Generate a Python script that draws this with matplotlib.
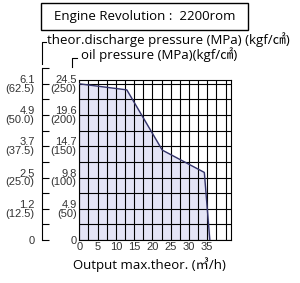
import matplotlib.pyplot as plt
import matplotlib
from matplotlib.lines import Line2D
from matplotlib.patches import Rectangle
import numpy as np

W, H = 300, 283
DPI = 100

title_font = ['Open Sans', 'Noto Sans CJK JP']
tick_font = ['Liberation Sans', 'DejaVu Sans']

# curve (output vs pressure)
flow = [0, 13.0, 22.7, 34.2, 35.7]
pressure = [24.5, 23.55, 14.1, 10.6, 0]

x_ticks = [0, 5, 10, 15, 20, 25, 30, 35]
x_grid = [2.5 * i for i in range(17)]

y_ticks = [0, 4.9, 9.8, 14.7, 19.6, 24.5]
y_inner_labels = ['0', '4.9\n(50)', '9.8\n(100)', '14.7\n(150)', '19.6\n(200)', '24.5\n(250)']
y_outer_labels = ['0', '1.2\n(12.5)', '2.5\n(25.0)', '3.7\n(37.5)', '4.9\n(50.0)', '6.1\n(62.5)']
y_grid = [2.45 * i for i in range(11)]
y_outer_minor = [2.45 * i for i in range(12)]

fig = plt.figure(figsize=(W / DPI, H / DPI), dpi=DPI)

# pixel helpers (origin top-left)
def fx(px):
    return px / W

def fy(py):
    return 1 - py / H

left, right, top, bottom = 79.3, 231, 80, 240
ymax = 25.1
ax = fig.add_axes([fx(left), fy(bottom), fx(right - left), (bottom - top) / H])
ax.set_xlim(0, 41.5)
ax.set_ylim(0, ymax)

ax.fill_between(flow, pressure, 0, color='#e4e4f6', zorder=1)
ax.plot(flow, pressure, color='#34346a', linewidth=1.0, zorder=3)

ax.set_xticks(x_ticks)
ax.set_xticklabels([str(v) for v in x_ticks], family=tick_font, fontsize=8, color='#333333')
ax.set_xticks(x_grid, minor=True)
ax.set_yticks(y_ticks)
ax.set_yticklabels(y_inner_labels, family=tick_font, fontsize=8, color='#333333', linespacing=0.85)
ax.set_yticks(y_grid, minor=True)
ax.tick_params(which='both', length=0)
ax.tick_params(axis='x', pad=1.5)
ax.tick_params(axis='y', pad=2)
ax.grid(which='both', color='black', linewidth=0.8, zorder=2)
ax.set_axisbelow(False)
for s in ax.spines.values():
    s.set_linewidth(0.8)

ax.set_xlabel('Output max.theor. (㎥/h)', family=title_font, fontsize=9.5, labelpad=1)
ax.xaxis.set_label_coords(0.46, -0.11)

# outer (secondary pressure) axis
outer_top = 27.5
oax = fig.add_axes([fx(41.5), fy(bottom), 0.0001, outer_top * (bottom - top) / ymax / H])
oax.set_ylim(0, outer_top)
oax.set_xticks([])
for k in ['top', 'right', 'bottom']:
    oax.spines[k].set_visible(False)
oax.spines['left'].set_bounds(0, y_outer_minor[-1])
oax.spines['left'].set_linewidth(0.8)
oax.set_yticks(y_ticks)
oax.set_yticklabels(y_outer_labels, family=tick_font, fontsize=8, color='#333333', linespacing=0.85)
oax.set_yticks(y_outer_minor, minor=True)
oax.tick_params(which='both', direction='in', length=5, width=0.8, pad=5)
oax.patch.set_visible(False)

# brackets to axis titles
fig.add_artist(Line2D([fx(41.5), fx(41.5), fx(46)], [fy(64), fy(42), fy(42)], color='black', linewidth=0.8))
fig.add_artist(Line2D([fx(72), fx(72), fx(77)], [fy(67), fy(58), fy(58)], color='black', linewidth=0.8))

fig.text(fx(47), fy(40), 'theor.discharge pressure (MPa) (kgf/㎠)', family=title_font,
         fontsize=9.5, ha='left', va='center')
fig.text(fx(81), fy(55), 'oil pressure (MPa)(kgf/㎠)', family=title_font,
         fontsize=9.5, ha='left', va='center')

# header box
fig.add_artist(Rectangle((fx(41), fy(30)), fx(248 - 41), (30 - 3) / H, fill=False,
                         edgecolor='black', linewidth=1.0))
fig.text(fx(144.5), fy(16.5), 'Engine Revolution :  2200rom', family=title_font,
         fontsize=9.5, ha='center', va='center')

fig.savefig('out.png', dpi=DPI)
